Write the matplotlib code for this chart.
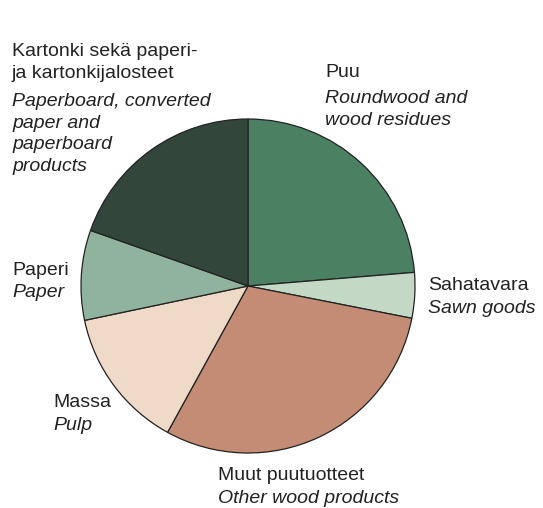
# coding: utf-8
import matplotlib
matplotlib.use("Agg")
import matplotlib.pyplot as plt

plt.rcParams['font.family'] = ['Liberation Sans Narrow', 'Liberation Sans', 'DejaVu Sans']

# osuudet, myötäpäivään ylhäältä alkaen
categories = ["Puu", "Sahatavara", "Muut puutuotteet", "Massa", "Paperi",
              "Kartonki sekä paperi- ja kartonkijalosteet"]
shares = [23.7, 4.4, 29.9, 13.7, 8.7, 19.6]
colors = ["#4b8063", "#c3d9c5", "#c48c75", "#efdac8", "#8fb39d", "#33463c"]

labels_fi = [["Puu"], ["Sahatavara"], ["Muut puutuotteet"], ["Massa"], ["Paperi"],
             ["Kartonki sekä paperi-", "ja kartonkijalosteet"]]
labels_en = [["Roundwood and", "wood residues"], ["Sawn goods"], ["Other wood products"],
             ["Pulp"], ["Paper"],
             ["Paperboard, converted", "paper and", "paperboard", "products"]]

W, H = 543, 508
fig = plt.figure(figsize=(W / 100, H / 100), dpi=100)
ax = fig.add_axes([0, 0, 1, 1])
ax.set_xlim(0, W)
ax.set_ylim(0, H)
ax.axis("off")

ax.pie(shares, colors=colors, startangle=90, counterclock=False,
       center=(248, H - 286), radius=167, frame=True,
       wedgeprops=dict(edgecolor="#222222", linewidth=0.9))
ax.set_xlim(0, W)
ax.set_ylim(0, H)
ax.axis("off")

# tekstien paikat: (x, suomenkielisen 1. rivin pohjaviiva, englannin 1. rivin pohjaviiva)
label_pos = [(325, 77, 103), (428, 290, 313), (218, 480, 503),
             (53, 407, 430), (12, 275, 297), (12, 56, 106)]
pitch = 21.6
fs = 14
tc = "#222222"

for fi, en, (x, y1, y2) in zip(labels_fi, labels_en, label_pos):
    for i, line in enumerate(fi):
        ax.text(x, H - (y1 + i * pitch), line, fontsize=fs, color=tc,
                ha="left", va="baseline")
    for i, line in enumerate(en):
        ax.text(x, H - (y2 + i * pitch), line, fontsize=fs, color=tc,
                style="italic", ha="left", va="baseline")

fig.savefig("out.png", dpi=100)
